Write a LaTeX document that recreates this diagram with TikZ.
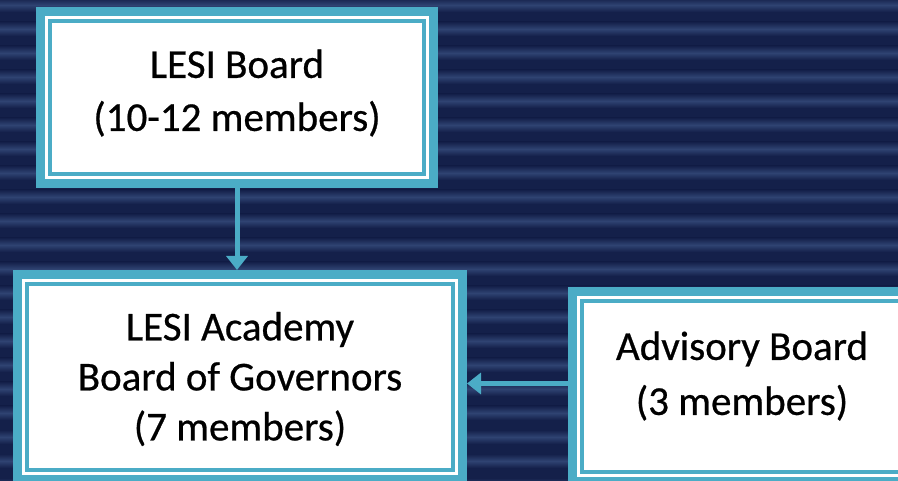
\documentclass[tikz,border=0pt]{standalone}
\usepackage{fontspec}
\setmainfont{Carlito}
\newfontfamily\boxfont{Carlito}[FakeBold=0.6]
\usetikzlibrary{arrows.meta}
\definecolor{navy}{HTML}{14204A}
\definecolor{stripe}{HTML}{2F4372}
\definecolor{teal}{HTML}{4BACC6}
\tikzset{
  orgbox/.style={draw=teal, line width=3.5pt, fill=white, inner sep=0pt, outer sep=14pt,
    preaction={draw=teal, line width=28pt},
    preaction={draw=white, line width=10pt}},
  boxtext/.style={align=center, text=black, inner sep=0pt},
  conn/.style={draw=teal, line width=5pt, -{Triangle[length=14pt,width=21pt]}}
}
\begin{document}
\begin{tikzpicture}[x=1pt,y=-1pt]
\useasboundingbox (0,0) rectangle (898,481);
\fill[navy] (0,0) rectangle (898,481);
\foreach \y in {-2,22,...,480} {
  \shade[top color=navy, bottom color=navy, middle color=stripe] (0,\y) rectangle (898,\y+14);
}
\node[orgbox, minimum width=374pt, minimum height=153pt] (b1) at (237,97.5) {};
\node[orgbox, minimum width=426pt, minimum height=186pt] (b2) at (240,377) {};
\node[orgbox, minimum width=320pt, minimum height=171pt] (b3) at (742,386.5) {};
\node[boxtext, font=\boxfont\fontsize{41}{53}\selectfont] (t1) at (237,93) {LESI Board\\(10-12 members)};
\node[boxtext, font=\boxfont\fontsize{41}{50}\selectfont] (t2) at (240,379) {LESI Academy\\Board of Governors\\(7 members)};
\node[boxtext, font=\boxfont\fontsize{41}{55}\selectfont] (t3) at (742,376) {Advisory Board\\(3 members)};
\draw[conn] (b1.south) -- (b1.south |- b2.north);
\draw[conn] ([yshift=3pt]b3.west) -- ([yshift=3pt]b3.west -| b2.east);
\end{tikzpicture}
\end{document}
